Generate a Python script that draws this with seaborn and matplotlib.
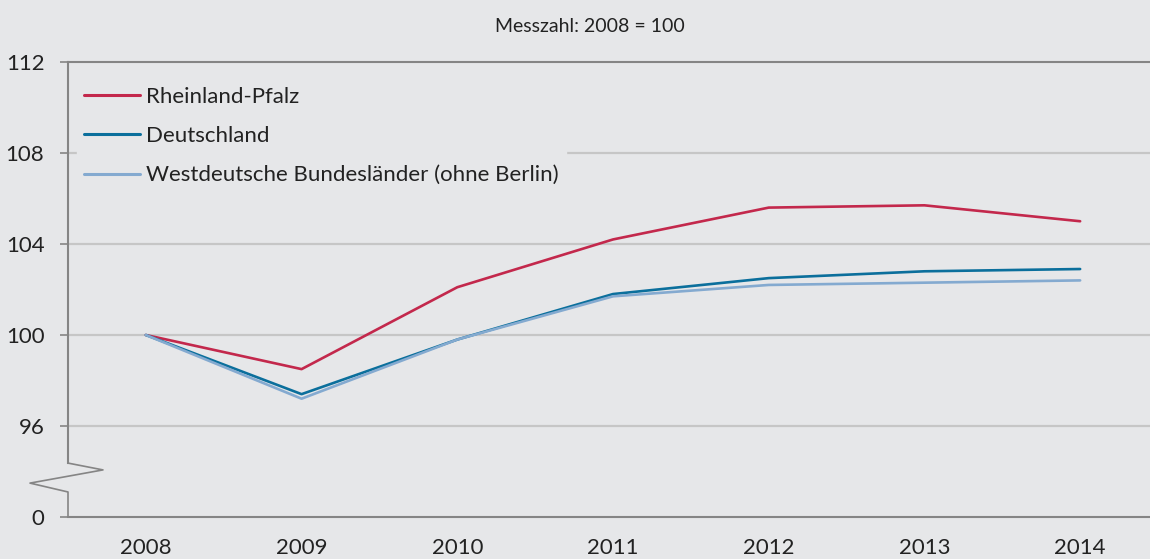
import matplotlib
matplotlib.use("Agg")
import matplotlib.pyplot as plt
import matplotlib.transforms as mtransforms
import numpy as np
import pandas as pd
import seaborn as sns

# --- data (index, 2008 = 100) ---
YEARS = [2008, 2009, 2010, 2011, 2012, 2013, 2014]
RLP = [100.0, 98.5, 102.1, 104.2, 105.6, 105.7, 105.0]
DE = [100.0, 97.4, 99.8, 101.8, 102.5, 102.8, 102.9]
WEST = [100.0, 97.2, 99.8, 101.7, 102.2, 102.3, 102.4]
SERIES = ["Rheinland-Pfalz", "Deutschland", "Westdeutsche Bundesländer (ohne Berlin)"]
COLORS = ["#c3284c", "#0b6f9c", "#84aad0"]
Y_TICKS = [92, 96, 100, 104, 108, 112]
Y_LABELS = ["0", "96", "100", "104", "108", "112"]

BG = "#e6e7e9"
GRID = "#c6c6c6"
DARK = "#858585"
TXT = "#222222"

df = pd.DataFrame({
    "Jahr": YEARS * 3,
    "Wert": RLP + DE + WEST,
    "Gebiet": [s for s in SERIES for _ in YEARS],
})

sns.set_theme(style="white")
plt.rcParams["font.family"] = ["Lato", "DejaVu Sans"]

fig = plt.figure(figsize=(11.5, 5.59), dpi=100, facecolor=BG)
ax = fig.add_axes([68 / 1150, 42 / 559, 1090 / 1150, 455 / 559])
ax.set_facecolor(BG)

sns.lineplot(data=df, x="Jahr", y="Wert", hue="Gebiet", hue_order=SERIES,
             palette=COLORS, linewidth=1.9, ax=ax, legend=True)

ax.set_xlim(2007.5, 2014.5)
ax.set_ylim(92, 112)
ax.set_xlabel("")
ax.set_ylabel("")

# x axis: labels at year centres, tick marks between years
ax.set_xticks(YEARS)
ax.set_xticklabels([str(y) for y in YEARS], fontsize=16, color=TXT)
ax.set_xticks(np.arange(2007.5, 2015, 1.0), minor=True)
ax.tick_params(axis="x", which="major", length=0, pad=15)
ax.tick_params(axis="x", which="minor", length=7, width=1.2, color=DARK, direction="out")

ax.set_yticks(Y_TICKS)
ax.set_yticklabels(Y_LABELS, fontsize=16, color=TXT)
ax.tick_params(axis="y", length=6, width=1.2, color=DARK, pad=11, left=True)

for v in Y_TICKS[1:-1]:
    ax.axhline(v, color=GRID, linewidth=1.6, zorder=0)

ax.spines["right"].set_visible(False)
for side in ("top", "bottom", "left"):
    ax.spines[side].set_color(DARK)
    ax.spines[side].set_linewidth(1.5)
ax.spines["left"].set_bounds(94.37, 112)

# broken-axis zigzag
tr = mtransforms.blended_transform_factory(fig.transFigure, ax.transData)
ax.plot([68 / 1150, 68 / 1150, 30 / 1150, 103 / 1150, 68 / 1150, 68 / 1150],
        [92, 93.1, 93.49, 94.07, 94.37, 94.4],
        color=DARK, linewidth=1.2, transform=tr, clip_on=False)

leg = ax.legend(loc="upper left", bbox_to_anchor=(10 / 1150, 1 - 18 / 455),
                frameon=True, facecolor=BG, edgecolor=BG, framealpha=1,
                fontsize=16, handlelength=2.5, handletextpad=0.3,
                labelspacing=0.87, borderpad=0.3, borderaxespad=0)
for line in leg.get_lines():
    line.set_linewidth(2.2)
for txt in leg.get_texts():
    txt.set_color(TXT)

fig.text(590 / 1150, 1 - 26 / 559, "Messzahl: 2008 = 100", ha="center", va="center",
         fontsize=14, color=TXT)

fig.savefig("out.png", dpi=100, facecolor=BG)
